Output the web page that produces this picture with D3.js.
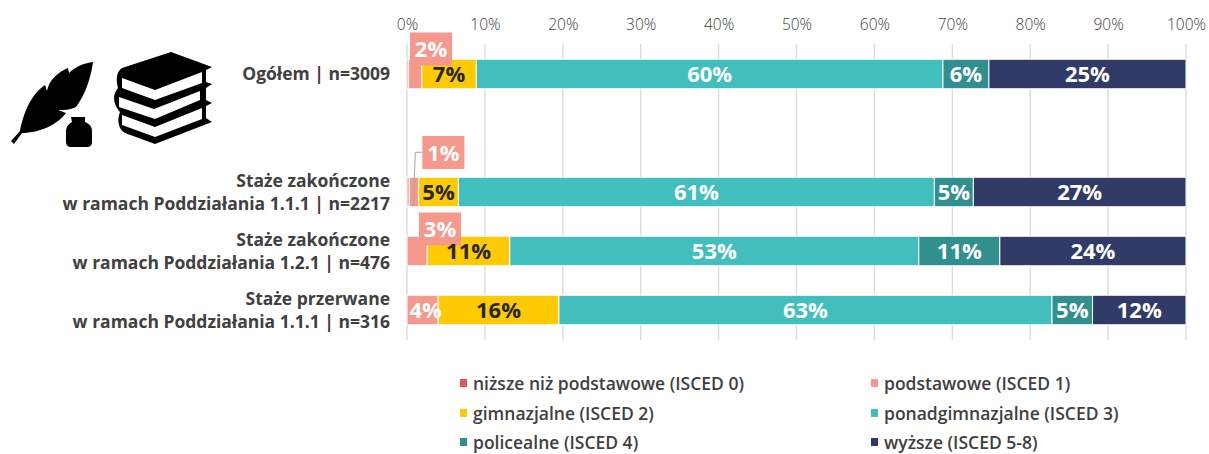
<!DOCTYPE html>
<html>
<head>
<meta charset="utf-8">
<script src="https://cdn.jsdelivr.net/npm/d3@7"></script>
<style>
  html, body { margin: 0; padding: 0; background: #fff; }
  text { font-family: "Open Sans", sans-serif; }
</style>
</head>
<body>
<div id="chart"></div>
<script>
// kategorie, puste miejsce pod wierszem "Ogółem"
const categories = ["Ogółem", "", "zak111", "zak121", "prz111"];
const rowLabels = [
    ["Ogółem | n=3009"],
    [],
    ["Staże zakończone", "w ramach Poddziałania 1.1.1 | n=2217"],
    ["Staże zakończone", "w ramach Poddziałania 1.2.1 | n=476"],
    ["Staże przerwane", "w ramach Poddziałania 1.1.1 | n=316"]
];
const seriesKeys = ["isced0", "isced1", "isced2", "isced3", "isced4", "isced5"];
const seriesNames = [
    "niższe niż podstawowe (ISCED 0)", "podstawowe (ISCED 1)",
    "gimnazjalne (ISCED 2)", "ponadgimnazjalne (ISCED 3)",
    "policealne (ISCED 4)", "wyższe (ISCED 5-8)"
];
const seriesColors = ["#e15759", "#f6998c", "#ffcb00", "#42bebc", "#318f8d", "#313b68"];
const labelColors = ["#fff", "#fff", "#262626", "#fff", "#fff", "#fff"];

// wartości (%)
const isced0 = [0.2, 0, 0.3, 0, 0];
const isced1 = [1.7, 0, 1.2, 2.6, 4.0];
const isced2 = [7.0, 0, 5.1, 10.6, 15.5];
const isced3 = [59.9, 0, 61.1, 52.5, 63.3];
const isced4 = [5.9, 0, 5.0, 10.4, 5.2];
const isced5 = [25.3, 0, 27.3, 23.9, 12.0];
const printed = {
    isced1: ["2%", "", "1%", "3%", "4%"],
    isced2: ["7%", "", "5%", "11%", "16%"],
    isced3: ["60%", "", "61%", "53%", "63%"],
    isced4: ["6%", "", "5%", "11%", "5%"],
    isced5: ["25%", "", "27%", "24%", "12%"]
};
const ticks = [0, 10, 20, 30, 40, 50, 60, 70, 80, 90, 100];

const width = 1209, height = 454;

const svg = d3.select("#chart").append("svg")
    .attr("width", width)
    .attr("height", height)
    .style("display", "block");

const x = d3.scaleLinear().domain([0, 100]).range([407, 1186]);
const y = d3.scaleBand().domain(categories).range([44.5, 339.5]).paddingInner(0.5).paddingOuter(0.25);

const rows = categories.map((c, i) => ({
    cat: c, isced0: isced0[i], isced1: isced1[i], isced2: isced2[i],
    isced3: isced3[i], isced4: isced4[i], isced5: isced5[i]
}));
const stacked = d3.stack().keys(seriesKeys)(rows);

// siatka i oś
svg.append("g").selectAll("line")
    .data(ticks)
    .enter().append("line")
    .attr("x1", d => x(d)).attr("x2", d => x(d))
    .attr("y1", 44).attr("y2", 340)
    .attr("stroke", "#d9d9d9").attr("stroke-width", 1.3);

const axis = svg.append("g")
    .attr("transform", "translate(0,33)")
    .call(d3.axisTop(x).tickValues(ticks).tickFormat(d => d + "%").tickSize(0));
axis.select(".domain").remove();
axis.selectAll("text")
    .style("font-family", '"Open Sans", sans-serif')
    .style("font-size", "15.5px")
    .style("font-weight", 300)
    .attr("fill", "#404040");

// słupki
stacked.forEach((s, si) => {
    svg.append("g").selectAll("rect")
        .data(s.filter(d => d[1] > d[0]))
        .enter().append("rect")
        .attr("x", d => x(d[0]))
        .attr("y", d => y(d.data.cat))
        .attr("width", d => x(d[1]) - x(d[0]))
        .attr("height", y.bandwidth())
        .attr("fill", seriesColors[si])
        .attr("fill-opacity", si === 0 ? 0.55 : 1)
        .attr("stroke", "#fff")
        .attr("stroke-width", 1);
});

// przesunięte etykiety ISCED 1: [środek x, środek y] względem słupka
const calloutDx = [22.5, 0, 34, 33, 0];
const calloutDy = [-25, 0, -39.5, -22, 0];
const boxW = 42, boxH = 33;
const s1 = stacked[1];

// linia odniesienia dla 1%
const r2 = s1[2];
const r2y = y(r2.data.cat);
svg.append("path")
    .attr("d", d3.line()([
        [x(r2[0]) + 13, r2y - 25],
        [x(r2[0]) + 6, r2y - 25],
        [x(r2[0]) + 4, r2y + 29]
    ]))
    .attr("fill", "none").attr("stroke", "#a6a6a6").attr("stroke-width", 1);

s1.forEach((d, i) => {
    if (!calloutDy[i]) return;
    const cx = x(d[0]) + calloutDx[i];
    const cy = y(d.data.cat) + y.bandwidth() / 2 + calloutDy[i];
    svg.append("rect")
        .attr("x", cx - boxW / 2).attr("y", cy - boxH / 2)
        .attr("width", boxW).attr("height", boxH)
        .attr("fill", seriesColors[1]);
    svg.append("text")
        .attr("x", cx).attr("y", cy + 8)
        .attr("text-anchor", "middle")
        .attr("font-size", 22).attr("font-weight", 700)
        .attr("fill", "#fff")
        .text(printed.isced1[i]);
});

// etykiety na słupkach
stacked.forEach((s, si) => {
    if (si === 0) return;
    s.forEach((d, i) => {
        const txt = printed[seriesKeys[si]][i];
        if (!txt || (si === 1 && calloutDy[i])) return;
        svg.append("text")
            .attr("x", x((d[0] + d[1]) / 2) + (si === 1 ? 3 : 0))
            .attr("y", y(d.data.cat) + y.bandwidth() / 2 + 8)
            .attr("text-anchor", "middle")
            .attr("font-size", 22).attr("font-weight", 700)
            .attr("fill", labelColors[si])
            .text(txt);
    });
});

// opisy wierszy
rowLabels.forEach((lines, i) => {
    const cy = y(categories[i]) + y.bandwidth() / 2;
    lines.forEach((t, j) => {
        svg.append("text")
            .attr("x", 390)
            .attr("y", cy + 6 + (j - (lines.length - 1) / 2) * 23)
            .attr("text-anchor", "end")
            .attr("font-size", 17.5).attr("font-weight", 700)
            .attr("fill", "#404040")
            .text(t);
    });
});

// legenda
const legendX = [460, 871];
const legendY = [384, 414, 443];
seriesNames.forEach((name, i) => {
    const lx = legendX[i % 2], ly = legendY[Math.floor(i / 2)];
    svg.append("rect")
        .attr("x", lx).attr("y", ly - 5)
        .attr("width", 7).attr("height", 8)
        .attr("fill", seriesColors[i]);
    svg.append("text")
        .attr("x", lx + 13).attr("y", ly + 6)
        .attr("font-size", 17.5).attr("font-weight", 600)
        .attr("fill", "#404040")
        .text(name);
});

// ikony: pióro, kałamarz, książki
const icons = svg.append("g").attr("fill", "#000");
icons.append("path").attr("d", "M11 141 L20 131 C23 115 30 95 45 85 L47 91 C49 80 58 72 68 68 L69 73 C76 66 85 63 93 62 C91 78 85 95 76 107 C70 110 64 110 58 110 L66 113 C58 124 40 133 22 133 L14 144 Z");
icons.append("path").attr("d", "M71 117 H85 V122 C90 124 92 127 92 131 V142 C92 145 90 147 87 147 H71 C68 147 66 145 66 142 V131 C66 127 68 124 72 122 Z");
icons.append("path").attr("d", "M171 52 L212 67 L206 70 V82 L212 84 L206 88 V100 L212 103 L206 106 V118 L212 122 L155 144 L125 133 C118 129 117 120 120 112 C113 104 112 95 118 88 C116 80 116 72 122 68 Z");
const pages = ["M122 78 L155 90 L202 72 V83 L155 100 L122 88 Z", "M119 97 L154 109 L200 91 V100 L155 119 L119 107 Z", "M122 115 L155 127 L202 108 V119 L155 137 L122 125 Z"];
icons.selectAll(".page").data(pages).enter().append("path")
    .attr("class", "page").attr("fill", "#fff").attr("d", d => d);
</script>
</body>
</html>
